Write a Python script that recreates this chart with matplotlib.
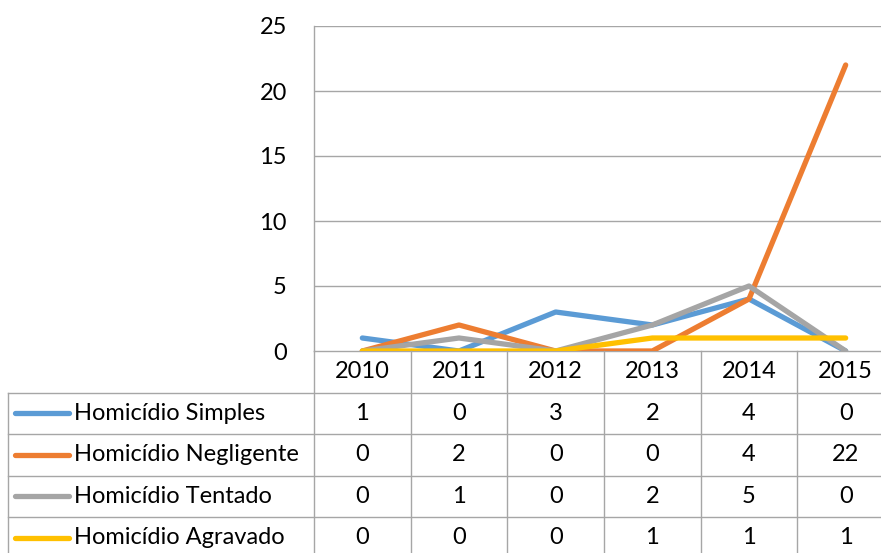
import matplotlib.pyplot as plt
import numpy as np

# Data
years = ['2010', '2011', '2012', '2013', '2014', '2015']
series_names = ['Homicídio Simples', 'Homicídio Negligente', 'Homicídio Tentado', 'Homicídio Agravado']
simples = [1, 0, 3, 2, 4, 0]
negligente = [0, 2, 0, 0, 4, 22]
tentado = [0, 1, 0, 2, 5, 0]
agravado = [0, 0, 0, 1, 1, 1]
y_ticks = [0, 5, 10, 15, 20, 25]

values = [simples, negligente, tentado, agravado]
colors = ['#5B9BD5', '#ED7D31', '#A5A5A5', '#FFC000']

plt.rcParams['font.family'] = ['Lato', 'DejaVu Sans']
FS = 17
GRID = '#A6A6A6'

W, H = 881, 553
fig = plt.figure(figsize=(W / 100, H / 100), dpi=100)

# pixel layout
plot_l, plot_r, plot_t, plot_b = 314, 894, 26, 351
tab_l = 8
col_w = (plot_r - plot_l) / len(years)
row_h = 41.5

# Chart area
ax = fig.add_axes([plot_l / W, (H - plot_b) / H, (plot_r - plot_l) / W, (plot_b - plot_t) / H])
x = np.arange(len(years))
for vals, c in zip(values, colors):
    ax.plot(x, vals, color=c, lw=3.8, solid_capstyle='round', solid_joinstyle='round', zorder=3)
ax.set_xlim(-0.5, len(years) - 0.5)
ax.set_ylim(0, 25)
ax.set_yticks(y_ticks)
ax.set_yticklabels([str(t) for t in y_ticks], fontsize=FS)
ax.tick_params(axis='y', length=0, pad=19.5)
ax.set_xticks([])
for t in y_ticks[1:]:
    ax.axhline(t, color=GRID, lw=1, zorder=1)
for s in ['top', 'right']:
    ax.spines[s].set_visible(False)
ax.spines['left'].set_color(GRID)
ax.spines['bottom'].set_color(GRID)
ax.spines['left'].set_linewidth(1)
ax.spines['bottom'].set_linewidth(1)

# Data table
n_rows = (H - plot_b) / row_h
x_left = -0.5 - (plot_l - tab_l) / col_w
tx = fig.add_axes([tab_l / W, 0, (plot_r - tab_l) / W, (H - plot_b) / H])
tx.set_xlim(x_left, len(years) - 0.5)
tx.set_ylim(n_rows, 0)
tx.axis('off')

# header row
for i in range(len(years) + 1):
    tx.plot([i - 0.5, i - 0.5], [0, n_rows], color=GRID, lw=1, clip_on=False)
tx.plot([x_left, x_left], [1, n_rows], color=GRID, lw=1, clip_on=False)
for r in range(1, 5):
    tx.plot([x_left, len(years) - 0.5], [r, r], color=GRID, lw=1, clip_on=False)
for i, yr in enumerate(years):
    tx.text(i, 0.5, yr, ha='center', va='center', fontsize=FS)

key_x0 = x_left + (15 - tab_l) / col_w
key_x1 = x_left + (69 - tab_l) / col_w
txt_x = x_left + (74 - tab_l) / col_w
for r, (name, vals, c) in enumerate(zip(series_names, values, colors)):
    yc = r + 1.5
    tx.plot([key_x0, key_x1], [yc, yc], color=c, lw=3.8, solid_capstyle='round')
    tx.text(txt_x, yc, name, ha='left', va='center', fontsize=FS)
    for i, v in enumerate(vals):
        tx.text(i, yc, str(v), ha='center', va='center', fontsize=FS)

fig.savefig('out.png', dpi=100)
